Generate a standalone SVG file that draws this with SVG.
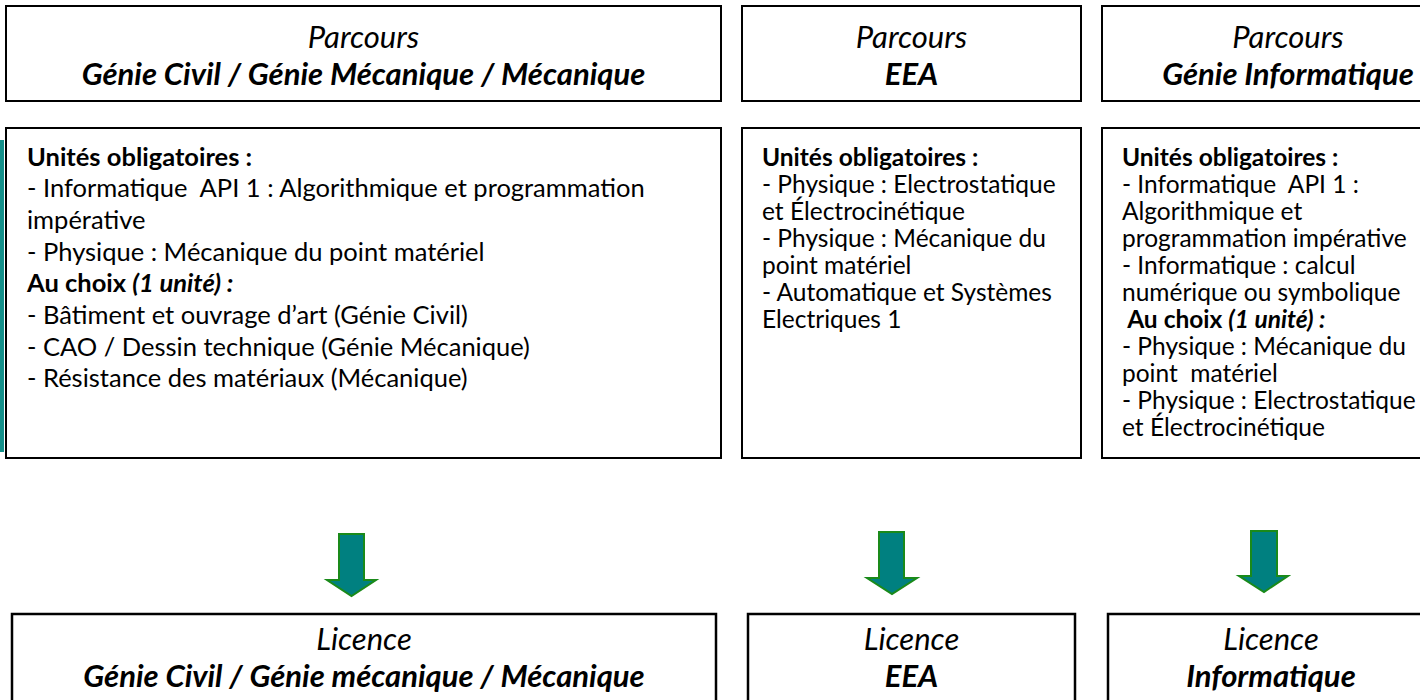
<svg xmlns="http://www.w3.org/2000/svg" width="1420" height="700" viewBox="0 0 1420 700">
<style>
.box{fill:#fff;stroke:#000;stroke-width:2}
.bbox{fill:#fff;stroke:#000;stroke-width:2.5}
.t{font-family:Lato,"Liberation Sans",sans-serif;fill:#000;white-space:pre}
.ti{font-size:31px;font-style:italic;text-anchor:middle}
.tb{font-size:31px;font-style:italic;font-weight:bold;text-anchor:middle}
.b{font-size:24.5px}
.b1{font-size:25.5px}
.h{font-weight:bold}
.arrow{fill:#008080;stroke:#1a8a1a;stroke-width:2;stroke-linejoin:miter}
</style>
<rect x="0" y="140" width="4" height="312" fill="#13908a"/>
<g id="parcours-gc">
<rect class="box" x="6" y="6" width="715" height="95"/>
<text class="t ti" x="363.5" y="48">Parcours</text>
<text class="t tb" x="363.5" y="85">Génie Civil / Génie Mécanique / Mécanique</text>
</g>
<g id="parcours-eea">
<rect class="box" x="742" y="6" width="339" height="95"/>
<text class="t ti" x="911.5" y="48">Parcours</text>
<text class="t tb" x="911.5" y="85">EEA</text>
</g>
<g id="parcours-gi">
<rect class="box" x="1102" y="6" width="360" height="95"/>
<text class="t ti" x="1288" y="48">Parcours</text>
<text class="t tb" x="1288" y="85">Génie Informatique</text>
</g>
<g id="unites-gc">
<rect class="box" x="6" y="128" width="715" height="330"/>
<text class="t b1" x="27" y="166"><tspan class="h">Unités obligatoires :</tspan></text>
<text class="t b1" x="27" y="197">- Informatique  API 1 : Algorithmique et programmation</text>
<text class="t b1" x="27" y="229">impérative</text>
<text class="t b1" x="27" y="261">- Physique : Mécanique du point matériel</text>
<text class="t b1" x="27" y="292"><tspan class="h">Au choix </tspan><tspan class="h" font-style="italic">(1 unité) :</tspan></text>
<text class="t b1" x="27" y="324">- Bâtiment et ouvrage d’art (Génie Civil)</text>
<text class="t b1" x="27" y="356">- CAO / Dessin technique (Génie Mécanique)</text>
<text class="t b1" x="27" y="387">- Résistance des matériaux (Mécanique)</text>
</g>
<g id="unites-eea">
<rect class="box" x="742" y="128" width="339" height="330"/>
<text class="t b" x="762" y="166"><tspan class="h">Unités obligatoires :</tspan></text>
<text class="t b" x="762" y="193">- Physique : Electrostatique</text>
<text class="t b" x="762" y="220">et Électrocinétique</text>
<text class="t b" x="762" y="247">- Physique : Mécanique du</text>
<text class="t b" x="762" y="274">point matériel</text>
<text class="t b" x="762" y="301">- Automatique et Systèmes</text>
<text class="t b" x="762" y="328">Electriques 1</text>
</g>
<g id="unites-gi">
<rect class="box" x="1102" y="128" width="360" height="330"/>
<text class="t b" x="1122" y="166"><tspan class="h">Unités obligatoires :</tspan></text>
<text class="t b" x="1122" y="193">- Informatique  API 1 :</text>
<text class="t b" x="1122" y="220">Algorithmique et</text>
<text class="t b" x="1122" y="247">programmation impérative</text>
<text class="t b" x="1122" y="274">- Informatique : calcul</text>
<text class="t b" x="1122" y="301">numérique ou symbolique</text>
<text class="t b" x="1122" y="328"><tspan class="h"> Au choix </tspan><tspan class="h" font-style="italic">(1 unité) :</tspan></text>
<text class="t b" x="1122" y="355">- Physique : Mécanique du</text>
<text class="t b" x="1122" y="382">point  matériel</text>
<text class="t b" x="1122" y="409">- Physique : Electrostatique</text>
<text class="t b" x="1122" y="436">et Électrocinétique</text>
</g>
<g id="connectors">
<polygon class="arrow" points="339,534 364,534 364,580 376,580 351.5,596 327,580 339,580"/>
<polygon class="arrow" points="879,532 904,532 904,578 917,578 892,594 867,578 879,578"/>
<polygon class="arrow" points="1251,531 1277,531 1277,576 1288,576 1264,592 1239,576 1251,576"/>
</g>
<g id="licence-gc">
<rect class="bbox" x="12" y="614" width="704" height="110"/>
<text class="t ti" x="364" y="650">Licence</text>
<text class="t tb" x="364" y="687">Génie Civil / Génie mécanique / Mécanique</text>
</g>
<g id="licence-eea">
<rect class="bbox" x="748" y="614" width="327" height="110"/>
<text class="t ti" x="911.5" y="650">Licence</text>
<text class="t tb" x="911.5" y="687">EEA</text>
</g>
<g id="licence-gi">
<rect class="bbox" x="1108" y="614" width="330" height="110"/>
<text class="t ti" x="1271" y="650">Licence</text>
<text class="t tb" x="1271" y="687">Informatique</text>
</g>
</svg>
